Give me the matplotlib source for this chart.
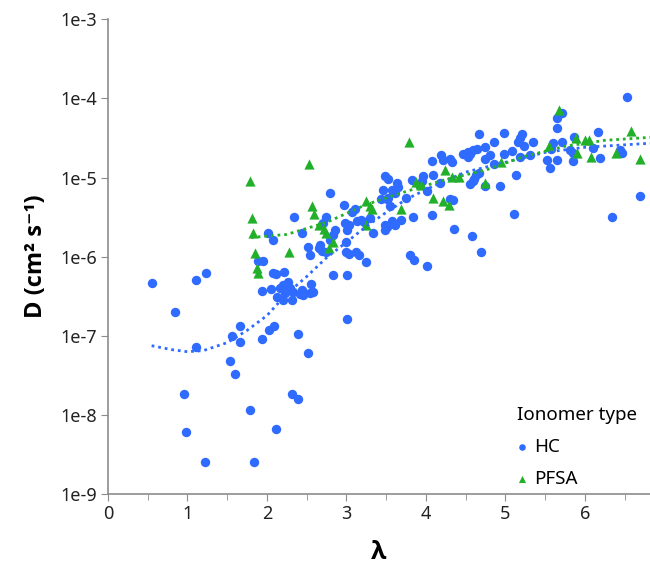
import numpy as np
import matplotlib
matplotlib.use('Agg')
import matplotlib.pyplot as plt
from matplotlib.ticker import FuncFormatter, MultipleLocator, NullLocator

plt.rcParams['font.family'] = ['Noto Sans', 'DejaVu Sans']

# HC ionomers: water uptake (lambda) and diffusivity D (cm2/s)
hc_lam = [0.55, 0.84, 1.11, 1.23, 1.11, 0.96, 0.98, 1.22, 1.56, 1.66,
          1.66, 1.53, 1.60, 1.79, 1.84, 2.11, 2.31, 2.39, 1.94, 2.03,
          2.09, 2.39, 2.52, 3.01, 3.25, 2.83, 3.01,
          1.89, 1.95, 2.08, 2.01, 2.34, 2.44, 2.52, 2.54, 2.65, 2.69,
          2.75, 2.70, 2.79, 2.79, 2.67, 2.75, 2.08, 2.11, 2.21, 1.94,
          2.05, 2.16, 2.20, 2.26, 2.29, 2.33, 2.23, 2.13, 2.20, 2.31,
          2.44, 2.45, 2.55, 2.54, 2.42, 2.58,
          2.97, 3.11, 3.07, 3.18, 3.22, 3.13, 2.98, 3.03, 3.01, 2.86,
          2.83, 2.99, 2.99, 3.03, 3.12, 3.16, 3.30, 3.33, 3.48, 3.52,
          3.64, 3.65, 3.46, 3.57, 3.61, 3.53, 3.51, 3.43, 3.55, 3.48,
          3.51, 3.48, 3.58, 3.61, 3.69, 3.84, 3.75, 3.82, 3.96, 3.95,
          3.80, 3.85, 4.01, 4.08,
          4.09, 4.18, 4.01, 4.19, 4.21, 4.30, 4.33, 4.31, 4.34, 4.08,
          4.35, 4.58, 4.69, 4.47, 4.53, 4.59, 4.64, 4.55, 4.53, 4.67,
          4.75, 4.81, 4.74, 4.86, 4.98, 4.98, 5.09, 5.19, 5.21, 5.19,
          5.16, 5.23, 5.35, 5.31, 4.86, 5.13, 4.55, 4.59, 4.60, 4.63,
          4.67, 4.75, 4.93, 5.11, 5.53, 5.56, 5.65, 5.60, 5.57, 5.71,
          5.87, 5.65, 5.71, 5.65, 5.81, 5.85, 5.85, 6.10, 6.16, 6.19,
          6.44, 6.47, 6.53, 6.34, 6.69]
hc_D = [4.70e-7, 2.02e-7, 5.13e-7, 6.28e-7, 7.26e-8, 1.86e-8, 6.10e-9, 2.55e-9, 1.00e-7, 1.35e-7,
        8.40e-8, 4.84e-8, 3.32e-8, 1.17e-8, 2.55e-9, 6.66e-9, 1.86e-8, 1.61e-8, 9.17e-8, 1.17e-7,
        1.35e-7, 1.04e-7, 6.10e-8, 1.61e-7, 8.65e-7, 5.93e-7, 5.93e-7,
        8.90e-7, 8.90e-7, 1.61e-6, 2.02e-6, 3.13e-6, 1.97e-6, 1.31e-6, 1.04e-6, 1.28e-6, 1.17e-6,
        3.13e-6, 2.63e-6, 6.47e-6, 1.61e-6, 1.39e-6, 1.14e-6, 6.28e-7, 6.10e-7, 6.47e-7, 3.72e-7,
        3.95e-7, 4.06e-7, 4.43e-7, 4.84e-7, 4.06e-7, 3.62e-7, 3.51e-7, 3.13e-7, 2.87e-7, 2.87e-7,
        3.83e-7, 3.32e-7, 4.56e-7, 3.51e-7, 3.41e-7, 3.62e-7,
        4.56e-6, 3.95e-6, 3.62e-6, 2.87e-6, 2.71e-6, 2.79e-6, 2.63e-6, 2.48e-6, 2.15e-6, 2.15e-6,
        1.86e-6, 1.52e-6, 1.14e-6, 1.07e-6, 1.14e-6, 1.04e-6, 3.04e-6, 2.02e-6, 1.04e-5, 9.71e-6,
        8.65e-6, 7.70e-6, 7.05e-6, 7.05e-6, 6.47e-6, 5.59e-6, 5.28e-6, 5.43e-6, 4.43e-6, 2.55e-6,
        2.34e-6, 2.15e-6, 2.79e-6, 2.48e-6, 2.87e-6, 3.13e-6, 5.59e-6, 9.44e-6, 1.04e-5, 9.17e-6,
        1.04e-6, 9.17e-7, 7.70e-7, 1.61e-5,
        1.07e-5, 8.65e-6, 6.85e-6, 1.91e-5, 1.65e-5, 1.70e-5, 1.56e-5, 5.43e-6, 5.13e-6, 3.32e-6,
        2.27e-6, 1.80e-6, 1.14e-6, 1.97e-5, 2.08e-5, 2.21e-5, 2.27e-5, 1.97e-5, 1.80e-5, 3.51e-5,
        2.41e-5, 1.91e-5, 1.70e-5, 2.79e-5, 3.62e-5, 1.97e-5, 2.15e-5, 1.80e-5, 3.51e-5, 3.13e-5,
        2.79e-5, 2.48e-5, 2.79e-5, 1.91e-5, 1.47e-5, 1.07e-5, 8.40e-6, 9.17e-6, 9.71e-6, 1.07e-5,
        1.14e-5, 7.92e-6, 7.92e-6, 3.51e-6, 1.65e-5, 1.31e-5, 1.65e-5, 2.71e-5, 2.27e-5, 2.79e-5,
        3.22e-5, 5.59e-5, 6.47e-5, 4.18e-5, 2.21e-5, 2.02e-5, 1.61e-5, 2.34e-5, 3.72e-5, 1.75e-5,
        2.21e-5, 2.02e-5, 1.04e-4, 3.13e-6, 5.76e-6]

# PFSA ionomers
pfsa_lam = [1.79, 1.81, 1.82, 1.85, 1.87, 1.89, 2.28, 2.53, 2.57, 2.59,
            2.65, 2.72, 2.74, 2.83, 2.78, 3.25, 3.30, 3.32, 3.25, 3.69,
            3.79, 3.87, 3.94, 4.24, 4.33, 4.42, 4.09, 4.21, 4.29, 4.75,
            4.94, 5.55, 5.67, 5.89, 5.90, 6.00, 6.05, 6.08, 6.39, 6.58,
            6.69]
pfsa_D = [9.17e-6, 3.04e-6, 2.02e-6, 1.10e-6, 7.26e-7, 6.28e-7, 1.14e-6, 1.47e-5, 4.43e-6, 3.51e-6,
          2.48e-6, 2.27e-6, 1.97e-6, 1.52e-6, 1.28e-6, 4.98e-6, 4.43e-6, 3.95e-6, 2.48e-6, 3.95e-6,
          2.79e-5, 8.90e-6, 8.16e-6, 1.24e-5, 1.01e-5, 1.01e-5, 5.59e-6, 4.98e-6, 4.56e-6, 8.65e-6,
          1.56e-5, 2.48e-5, 7.05e-5, 3.13e-5, 2.02e-5, 2.95e-5, 2.95e-5, 1.80e-5, 2.02e-5, 3.83e-5,
          1.70e-5]

# smoother curves
hc_fit_lam = [0.55, 0.8, 1.0, 1.2, 1.5, 1.75, 2.0, 2.25, 2.5, 2.75, 3.0, 3.25,
              3.5, 3.75, 4.0, 4.25, 4.5, 5.0, 5.5, 6.0, 6.82]
hc_fit_D = [7.5e-8, 6.7e-8, 6.3e-8, 6.5e-8, 8.2e-8, 1.17e-7, 1.8e-7, 3.4e-7, 5.6e-7,
            9.7e-7, 1.52e-6, 2.41e-6, 3.62e-6, 5.28e-6, 7.05e-6, 9.17e-6, 1.17e-5,
            1.56e-5, 2.08e-5, 2.41e-5, 2.71e-5]
pfsa_fit_lam = [1.8, 2.25, 2.75, 3.25, 3.75, 4.25, 4.75, 5.25, 5.75, 6.25, 6.82]
pfsa_fit_D = [1.75e-6, 1.91e-6, 2.71e-6, 4.56e-6, 6.66e-6, 9.44e-6, 1.24e-5, 1.86e-5,
              2.48e-5, 2.95e-5, 3.22e-5]

blue = '#2f6bff'
green = '#22b02a'

fig = plt.figure(figsize=(6.5, 5.66), dpi=100)
ax = fig.add_axes([0.166, 0.127, 0.834, 0.839])

ax.scatter(hc_lam, hc_D, s=46, color=blue, marker='o', linewidths=0, label='HC', zorder=3)
ax.scatter(pfsa_lam, pfsa_D, s=54, color=green, marker='^', linewidths=0, label='PFSA', zorder=4)

ax.plot(hc_fit_lam, hc_fit_D, color=blue, lw=2, linestyle=(0, (1, 1.4)), zorder=5)
ax.plot(pfsa_fit_lam, pfsa_fit_D, color=green, lw=2, linestyle=(0, (1, 1.4)), zorder=5)

ax.set_yscale('log')
ax.set_ylim(1e-9, 1e-3)
ax.set_xlim(0, 6.82)
ax.yaxis.set_minor_locator(NullLocator())
ax.yaxis.set_major_formatter(FuncFormatter(lambda v, p: '1e%d' % round(np.log10(v))))
ax.xaxis.set_major_locator(MultipleLocator(1))
ax.xaxis.set_minor_locator(MultipleLocator(0.5))

for s in ['top', 'right']:
    ax.spines[s].set_visible(False)
for s in ['left', 'bottom']:
    ax.spines[s].set_color('#8c8c8c')
    ax.spines[s].set_linewidth(1.2)
ax.tick_params(which='major', length=5, color='#8c8c8c', labelsize=13,
               labelcolor='#222222', pad=3)
ax.tick_params(which='minor', length=4, color='#8c8c8c')

ax.set_ylabel('D (cm² s⁻¹)', fontsize=17, fontweight='bold', labelpad=9,
              family=['Open Sans', 'DejaVu Sans'])
ax.set_xlabel('λ', fontsize=18, fontweight='bold', labelpad=12,
              family=['Open Sans', 'DejaVu Sans'])

leg = ax.legend(title='Ionomer type', loc='upper left', bbox_to_anchor=(0.737, 0.205),
                frameon=False, fontsize=13.5, title_fontsize=13.5, markerscale=0.7,
                handlelength=0.6, handletextpad=0.3, labelspacing=0.75,
                borderpad=0, alignment='left')

plt.savefig('out.png', dpi=100)
plt.close()
